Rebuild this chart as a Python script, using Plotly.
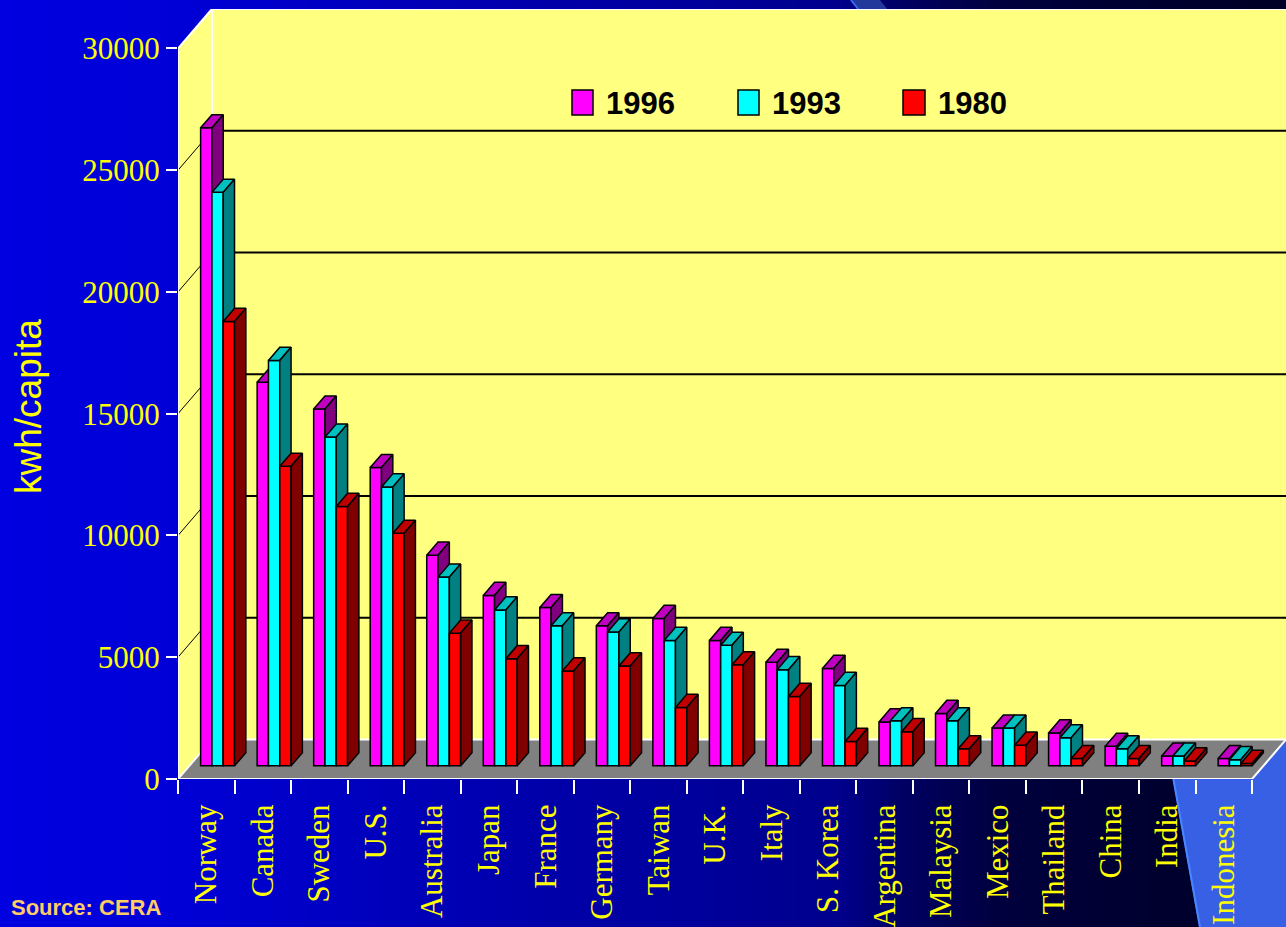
import plotly.graph_objects as go

# ---------------- data ----------------
countries = ["Norway", "Canada", "Sweden", "U.S.", "Australia", "Japan", "France",
             "Germany", "Taiwan", "U.K.", "Italy", "S. Korea", "Argentina",
             "Malaysia", "Mexico", "Thailand", "China", "India", "Indonesia"]
kwh_1996 = [26200, 15750, 14650, 12250, 8650, 7000, 6500, 5750, 6050, 5150,
            4250, 4000, 1800, 2150, 1550, 1350, 800, 400, 300]
kwh_1993 = [23550, 16650, 13500, 11450, 7750, 6400, 5750, 5500, 5150, 4950,
            3950, 3300, 1850, 1850, 1550, 1150, 700, 400, 250]
kwh_1980 = [18250, 12300, 10650, 9550, 5450, 4400, 3900, 4100, 2400, 4150,
            2850, 1000, 1400, 700, 850, 300, 300, 200, 100]
series_names = ["1996", "1993", "1980"]
y_tick_values = [0, 5000, 10000, 15000, 20000, 25000, 30000]

# ---------------- styling ----------------
front_colors = ["#FF00FF", "#00FFFF", "#FF0000"]
top_colors = ["#C000C0", "#00C0C0", "#C00000"]
side_colors = ["#800080", "#008080", "#800000"]
WALL = "#FFFF80"
FLOOR = "#808080"
YELLOW = "#FFFF00"

W, H = 1286, 927
ML, MR, MT, MB = 178, 0, 9, 148
PW, PH = W - ML - MR, H - MT - MB

N = len(countries)
YMAX = 30000
DX = 0.6          # depth of floor/walls along x (category units)
DV = 1620         # depth of floor/walls along y (value units)
BW = 0.2          # bar width (category units)
DDX, DDV = DX / 3, DV / 3   # depth of one bar
BASE = DV / 3               # bars stand in the middle third of the floor

XR = [0, N + DX]
YR = [0, YMAX + DV]


def px(xp):
    return (xp - ML) / PW


def py(yp):
    return (H - MB - yp) / PH


fig = go.Figure()

all_series = [kwh_1996, kwh_1993, kwh_1980]
for k, (name, vals) in enumerate(zip(series_names, all_series)):
    xa = "x" if k == 0 else f"x{k + 1}"
    centers = [c + 0.5 + BW * k for c in range(N)]
    fig.add_trace(go.Bar(
        x=centers, y=vals, base=BASE, width=BW, name=name,
        marker=dict(color=front_colors[k], line=dict(color="black", width=1.5)),
        xaxis=xa, yaxis="y", hoverinfo="skip", showlegend=False))

    tx, ty, sx, sy = [], [], [], []
    for c, v in zip(centers, vals):
        x0, x1 = c - BW / 2, c + BW / 2
        y0, y1 = BASE, BASE + v
        tx += [x0, x1, x1 + DDX, x0 + DDX, x0, None]
        ty += [y1, y1, y1 + DDV, y1 + DDV, y1, None]
        sx += [x1, x1 + DDX, x1 + DDX, x1, x1, None]
        sy += [y0, y0 + DDV, y1 + DDV, y1, y0, None]
    fig.add_trace(go.Scatter(
        x=tx, y=ty, mode="lines", fill="toself", fillcolor=top_colors[k],
        line=dict(color="black", width=1.5), xaxis=xa, yaxis="y",
        hoverinfo="skip", showlegend=False))
    fig.add_trace(go.Scatter(
        x=sx, y=sy, mode="lines", fill="toself", fillcolor=side_colors[k],
        line=dict(color="black", width=1.5), xaxis=xa, yaxis="y",
        hoverinfo="skip", showlegend=False))

shapes = []

# background: horizontal blue gradient across the page
bg_stops = [(0, 224), (180, 214), (430, 182), (560, 168), (700, 155),
            (840, 140), (900, 100), (1000, 62), (1150, 48), (1286, 36)]


def bg_blue(xp):
    for (xa_, ba), (xb_, bb) in zip(bg_stops[:-1], bg_stops[1:]):
        if xa_ <= xp <= xb_:
            t = (xp - xa_) / (xb_ - xa_)
            return ba + (bb - ba) * t
    return bg_stops[-1][1]


step = 6
for xs in range(0, W, step):
    b = int(round(bg_blue(xs + step / 2)))
    shapes.append(dict(type="rect", xref="paper", yref="paper", layer="below",
                       x0=px(xs), x1=px(xs + step + 1), y0=py(H), y1=py(0),
                       fillcolor=f"rgb(0,0,{b})", line=dict(width=0)))

# lighter swoosh at the lower right and its thin start at the top
band = [(1130, 560), (1286, 380), (1286, H), (1199, H), (1173, 780)]
path = "M " + " L ".join(f"{px(a)},{py(b)}" for a, b in band) + " Z"
shapes.append(dict(type="path", xref="paper", yref="paper", layer="below",
                   path=path, fillcolor="#3760E4", line=dict(width=0)))
shapes.append(dict(type="line", xref="paper", yref="paper", layer="below",
                   x0=px(1134), y0=py(560), x1=px(1200), y1=py(H),
                   line=dict(color="#4A86FF", width=2)))
stripe = [(852, 0), (880, 0), (888, 10), (860, 10)]
path = "M " + " L ".join(f"{px(a)},{py(b)}" for a, b in stripe) + " Z"
shapes.append(dict(type="path", xref="paper", yref="paper", layer="below",
                   path=path, fillcolor="#22389A", line=dict(width=0)))
shapes.append(dict(type="line", xref="paper", yref="paper", layer="below",
                   x0=px(851), y0=py(0), x1=px(859), y1=py(10),
                   line=dict(color="#3A6AF0", width=2)))


def poly(points, fill, line_color=None, width=0):
    p = "M " + " L ".join(f"{a},{b}" for a, b in points) + " Z"
    return dict(type="path", xref="x", yref="y", layer="below", path=p,
                fillcolor=fill, line=dict(color=line_color or fill, width=width))


def seg(x0, y0, x1, y1, color, width):
    return dict(type="line", xref="x", yref="y", layer="below",
                x0=x0, y0=y0, x1=x1, y1=y1, line=dict(color=color, width=width))


# walls and floor
shapes.append(poly([(DX, DV), (N + DX, DV), (N + DX, YMAX + DV), (DX, YMAX + DV)], WALL))
shapes.append(poly([(0, 0), (DX, DV), (DX, YMAX + DV), (0, YMAX)], WALL))
shapes.append(poly([(0, 0), (N, 0), (N + DX, DV), (DX, DV)], FLOOR))

# gridlines on the back and side walls
for v in y_tick_values[1:-1]:
    shapes.append(seg(DX, v + DV, N + DX, v + DV, "black", 2))
    shapes.append(seg(0, v, DX, v + DV, "black", 1))

# white frame edges
edges = [
    (0, 0, 0, YMAX), (0, YMAX, DX, YMAX + DV), (DX, YMAX + DV, N + DX, YMAX + DV),
    (DX, DV, DX, YMAX + DV), (0, 0, N, 0), (N, 0, N + DX, DV),
    (DX, DV, N + DX, DV), (0, 0, DX, DV),
]
for e in edges:
    shapes.append(seg(*e, "white", 2))

# legend swatches
legend_boxes = [(572, 593), (738, 759), (903, 925)]
legend_text_x = [604, 770, 936]
for (a, b), col in zip(legend_boxes, front_colors):
    shapes.append(dict(type="rect", xref="paper", yref="paper", layer="above",
                       x0=px(a), x1=px(b), y0=py(115), y1=py(90),
                       fillcolor=col, line=dict(color="black", width=1.5)))

annotations = []
for name, xt in zip(series_names, legend_text_x):
    annotations.append(dict(text=f"<b>{name}</b>", xref="paper", yref="paper",
                            x=px(xt), y=py(103), xanchor="left", yanchor="middle",
                            showarrow=False,
                            font=dict(family="Liberation Sans", size=31, color="black")))

annotations.append(dict(text="kwh/capita", xref="paper", yref="paper",
                        x=px(28), y=py(407), xanchor="center", yanchor="middle",
                        textangle=-90, showarrow=False,
                        font=dict(family="Liberation Sans", size=37, color=YELLOW)))
annotations.append(dict(text="<b>Source: CERA</b>", xref="paper", yref="paper",
                        x=px(9), y=py(908), xanchor="left", yanchor="middle",
                        showarrow=False,
                        font=dict(family="Liberation Sans", size=22, color="#FFCC66")))

hidden_x = dict(overlaying="x", anchor="y", range=XR, visible=False, fixedrange=True)

fig.update_layout(
    width=W, height=H,
    margin=dict(l=ML, r=MR, t=MT, b=MB, pad=0),
    paper_bgcolor="#0000B0",
    plot_bgcolor="rgba(0,0,0,0)",
    barmode="overlay",
    showlegend=False,
    shapes=shapes,
    annotations=annotations,
    xaxis=dict(
        range=XR, fixedrange=True, automargin=False,
        tickmode="array", tickvals=[c + 0.5 for c in range(N)], ticktext=countries,
        tickangle=-90, ticks="outside", ticklen=12, tickcolor="rgba(0,0,0,0)",
        tickfont=dict(family="Liberation Serif", size=31, color=YELLOW),
        minor=dict(tickmode="array", tickvals=list(range(N + 1)), ticks="outside",
                   ticklen=14, tickwidth=2, tickcolor="white", showgrid=False),
        showgrid=False, zeroline=False, showline=False,
    ),
    xaxis2=hidden_x,
    xaxis3=hidden_x,
    yaxis=dict(
        range=YR, fixedrange=True, automargin=False,
        tickmode="array", tickvals=y_tick_values,
        ticktext=[str(v) for v in y_tick_values],
        ticks="outside", ticklen=11, tickwidth=2, tickcolor="white",
        tickfont=dict(family="Liberation Serif", size=31, color=YELLOW),
        showgrid=False, zeroline=False, showline=False,
    ),
)

fig.write_html("out.html")
